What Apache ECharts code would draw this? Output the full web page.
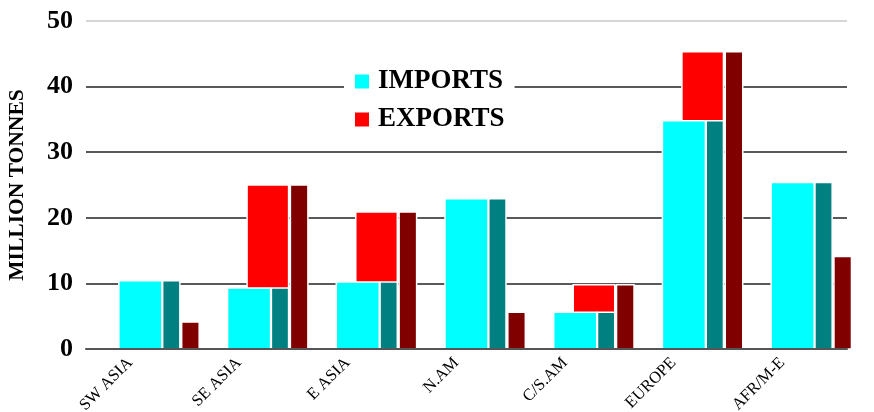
<!DOCTYPE html>
<html>
<head>
<meta charset="utf-8">
<script src="https://cdn.jsdelivr.net/npm/echarts@6/dist/echarts.min.js"></script>
<style>
html,body{margin:0;padding:0;background:#fff;}
#chart{width:874px;height:412px;}
</style>
</head>
<body>
<div id="chart"></div>
<script>
const categories = ['SW ASIA', 'SE ASIA', 'E ASIA', 'N.AM', 'C/S.AM', 'EUROPE', 'AFR/M-E'];
const imports = [10.4, 9.3, 10.2, 22.9, 5.6, 34.8, 25.4];
const exports = [4.1, 25.0, 20.9, 5.6, 9.8, 45.3, 14.1];
const yTicks = [0, 10, 20, 30, 40, 50];

const chart = echarts.init(document.getElementById('chart'));

const REF = 108.67;
function rectAt(api, c, f, a, b, v, color) {
  const base = api.coord([0, 0])[1];
  const top = api.coord([0, v])[1];
  return {
    type: 'rect',
    shape: { x: c + a * f, y: top, width: (b - a) * f, height: base - top },
    style: { fill: color, stroke: '#ffffff', lineWidth: 1.5 }
  };
}
function renderImports(params, api) {
  const i = api.value(0), v = api.value(1);
  const c = api.coord([i, 0])[0];
  const f = api.size([1, 0])[0] / REF;
  return { type: 'group', children: [
    rectAt(api, c, f, -21.5, 21.5, v, '#00ffff'),
    rectAt(api, c, f, 22.3, 39.5, v, '#008080')
  ]};
}
function renderExports(params, api) {
  const i = api.value(0), v = api.value(1);
  const c = api.coord([i, 0])[0];
  const f = api.size([1, 0])[0] / REF;
  return { type: 'group', children: [
    rectAt(api, c, f, -2, 39.5, v, '#ff0000'),
    rectAt(api, c, f, 41.3, 58.8, v, '#800000')
  ]};
}

const serif = '"Liberation Serif", "Times New Roman", serif';

chart.setOption({
  animation: false,
  backgroundColor: '#ffffff',
  grid: { left: 86, right: 27, top: 21, bottom: 63, containLabel: false, outerBoundsMode: 'none' },
  legend: {
    data: ['IMPORTS', 'EXPORTS'],
    orient: 'vertical',
    left: 344,
    top: 64,
    backgroundColor: '#ffffff',
    padding: [4, 10, 4, 11],
    itemWidth: 14,
    itemHeight: 14,
    itemGap: 11,
    icon: 'rect',
    z: 10,
    textStyle: { fontFamily: serif, fontWeight: 'bold', fontSize: 27, color: '#000', lineHeight: 26, padding: [0, 0, 0, 4] }
  },
  xAxis: {
    type: 'category',
    data: categories,
    axisLine: { show: true, lineStyle: { color: '#555555', width: 2 } },
    axisTick: { show: false },
    axisLabel: { rotate: 45, margin: 13, verticalAlign: 'bottom', padding: [0, 6, 0, 0],
      fontFamily: serif, fontSize: 16.5, color: '#000', interval: 0 },
    z: 5
  },
  yAxis: {
    type: 'value',
    min: yTicks[0],
    max: yTicks[yTicks.length - 1],
    interval: 10,
    name: 'MILLION TONNES',
    nameLocation: 'middle',
    nameGap: 58,
    nameTextStyle: { fontFamily: serif, fontWeight: 'bold', fontSize: 21.5, color: '#000' },
    axisLine: { show: false },
    axisTick: { show: false },
    axisLabel: { margin: 13, fontFamily: serif, fontWeight: 'bold', fontSize: 26, color: '#000' },
    splitLine: { show: true, lineStyle: { color: ['#222', '#222', '#222', '#222', '#222', '#c8c8c8'], width: 1.5 } }
  },
  series: [
    { name: 'EXPORTS', type: 'custom', renderItem: renderExports, itemStyle: { color: '#ff0000' },
      data: exports.map((v, i) => [i, v]), z: 2 },
    { name: 'IMPORTS', type: 'custom', renderItem: renderImports, itemStyle: { color: '#00ffff' },
      data: imports.map((v, i) => [i, v]), z: 3 }
  ]
});
</script>
</body>
</html>
